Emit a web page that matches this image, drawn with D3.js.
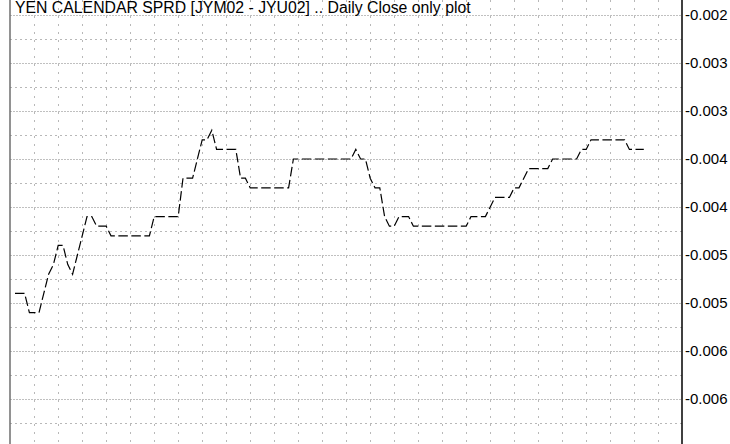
<!DOCTYPE html>
<html>
<head>
<meta charset="utf-8">
<script src="https://cdn.jsdelivr.net/npm/d3@7"></script>
<style>
  body { margin: 0; background: #fff; }
  svg { display: block; font-family: "Liberation Sans", Arial, sans-serif; }
</style>
</head>
<body>
<svg width="730" height="444"></svg>
<script>
// daily closes of the JYM02 - JYU02 spread, one per trading day
var closes = [
  -0.0054, -0.0054, -0.0054, -0.0056, -0.0056, -0.0056, -0.0054, -0.0052, -0.0051, -0.0049,
  -0.0049, -0.0051, -0.0052, -0.0050, -0.0048, -0.0046, -0.0046, -0.0047, -0.0047, -0.0047,
  -0.0048, -0.0048, -0.0048, -0.0048, -0.0048, -0.0048, -0.0048, -0.0048, -0.0048, -0.0046,
  -0.0046, -0.0046, -0.0046, -0.0046, -0.0046, -0.0042, -0.0042, -0.0042, -0.0040, -0.0038,
  -0.0038, -0.0037, -0.0039, -0.0039, -0.0039, -0.0039, -0.0039, -0.0042, -0.0042, -0.0043,
  -0.0043, -0.0043, -0.0043, -0.0043, -0.0043, -0.0043, -0.0043, -0.0043, -0.0040, -0.0040,
  -0.0040, -0.0040, -0.0040, -0.0040, -0.0040, -0.0040, -0.0040, -0.0040, -0.0040, -0.0040,
  -0.0040, -0.0039, -0.0040, -0.0040, -0.0042, -0.0043, -0.0043, -0.0046, -0.0047, -0.0047,
  -0.0046, -0.0046, -0.0046, -0.0047, -0.0047, -0.0047, -0.0047, -0.0047, -0.0047, -0.0047,
  -0.0047, -0.0047, -0.0047, -0.0047, -0.0047, -0.0046, -0.0046, -0.0046, -0.0046, -0.0045,
  -0.0044, -0.0044, -0.0044, -0.0044, -0.0043, -0.0043, -0.0042, -0.0041, -0.0041, -0.0041,
  -0.0041, -0.0041, -0.0040, -0.0040, -0.0040, -0.0040, -0.0040, -0.0040, -0.0039, -0.0039,
  -0.0038, -0.0038, -0.0038, -0.0038, -0.0038, -0.0038, -0.0038, -0.0038, -0.0039, -0.0039,
  -0.0039, -0.0039
];

// right axis ticks, labels as printed on the chart
var majorTicks = [-0.0025, -0.0030, -0.0035, -0.0040, -0.0045, -0.0050, -0.0055, -0.0060, -0.0065];
var tickLabels = ["-0.002", "-0.003", "-0.003", "-0.004", "-0.004", "-0.005", "-0.005", "-0.006", "-0.006"];
var minorTicks = [-0.00275, -0.00325, -0.00375, -0.00425, -0.00475, -0.00525, -0.00575, -0.00625, -0.00675];

// weekly grid, day index of each week start
var weekStarts = [4, 9, 14, 19, 24, 29, 34, 39, 44, 49, 54, 59, 64, 69, 74, 79, 84, 89, 94, 99,
  104, 109, 114, 119, 124, 129, 134];

var title = "YEN CALENDAR SPRD [JYM02 - JYU02] .. Daily Close only plot";

var svg = d3.select("svg"),
    width = +svg.attr("width"),
    height = +svg.attr("height");

var left = 10, right = 682;

var x = d3.scaleLinear().domain([0, 131]).range([15, 643.8]);
var y = d3.scaleLinear().domain([-0.0025, -0.0065]).range([15, 399]);

// grid
var grid = svg.append("g").attr("shape-rendering", "crispEdges");

grid.selectAll("line.vgrid")
    .data(weekStarts)
    .enter().append("line")
    .attr("class", "vgrid")
    .attr("x1", function(d) { return Math.round(x(d)) + 0.5; })
    .attr("x2", function(d) { return Math.round(x(d)) + 0.5; })
    .attr("y1", 0)
    .attr("y2", height)
    .attr("stroke", "#b8b8b8")
    .attr("stroke-dasharray", "2,6");

grid.selectAll("line.minor")
    .data(minorTicks)
    .enter().append("line")
    .attr("class", "minor")
    .attr("x1", left)
    .attr("x2", right)
    .attr("y1", function(d) { return Math.round(y(d)) + 0.5; })
    .attr("y2", function(d) { return Math.round(y(d)) + 0.5; })
    .attr("stroke", "#b8b8b8")
    .attr("stroke-dasharray", "1.5,3.5");

grid.selectAll("line.major")
    .data(majorTicks)
    .enter().append("line")
    .attr("class", "major")
    .attr("x1", left)
    .attr("x2", right)
    .attr("y1", function(d) { return Math.round(y(d)) + 0.5; })
    .attr("y2", function(d) { return Math.round(y(d)) + 0.5; })
    .attr("stroke", "#c0c0c0")
    .attr("stroke-dasharray", "2,1");

// frame
svg.append("line")
    .attr("x1", left).attr("x2", left)
    .attr("y1", 0).attr("y2", height)
    .attr("stroke", "#6e6e6e")
    .attr("stroke-width", 1.5);

svg.append("line")
    .attr("x1", right).attr("x2", right)
    .attr("y1", 0).attr("y2", height)
    .attr("stroke", "#000")
    .attr("stroke-width", 1.5);

// price line
var line = d3.line()
    .x(function(d, i) { return x(i); })
    .y(function(d) { return y(d); });

svg.append("path")
    .datum(closes)
    .attr("fill", "none")
    .attr("stroke", "#000")
    .attr("stroke-width", 1.2)
    .attr("stroke-dasharray", "9.5,3.5")
    .attr("d", line);

// right axis
var axis = d3.axisRight(y)
    .tickValues(majorTicks)
    .tickFormat(function(d, i) { return tickLabels[i]; })
    .tickSize(0)
    .tickPadding(3);

var ax = svg.append("g")
    .attr("transform", "translate(" + right + ",0)")
    .call(axis);
ax.select(".domain").remove();
ax.selectAll("text")
    .attr("fill", "#000")
    .style("font-size", "15px")
    .style("font-family", "'Liberation Sans', Arial, sans-serif");

// title
svg.append("text")
    .attr("x", 15)
    .attr("y", 12.5)
    .attr("fill", "#000")
    .style("font-size", "15.8px")
    .text(title);
</script>
</body>
</html>
